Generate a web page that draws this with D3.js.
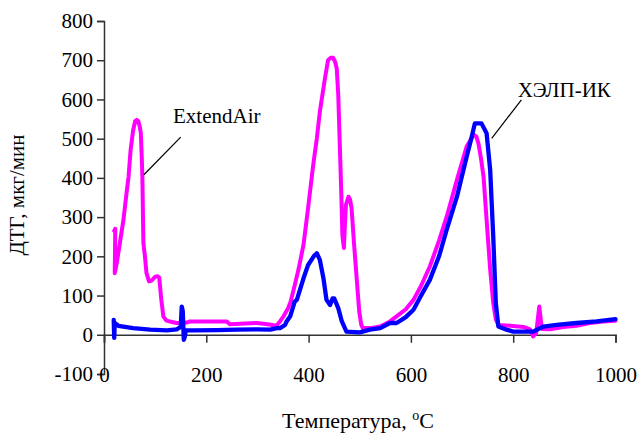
<!DOCTYPE html>
<html><head><meta charset="utf-8">
<script src="https://cdn.jsdelivr.net/npm/d3@7"></script>
<style>
html,body{margin:0;padding:0;background:#fff;}
text{font-family:"Liberation Serif","Times New Roman",serif;fill:#000;}
</style></head>
<body><svg id="c" width="639" height="433"></svg>
<script>
// ---- data ----
const xTicks = [0, 200, 400, 600, 800, 1000];
const yTicks = [-100, 0, 100, 200, 300, 400, 500, 600, 700, 800];
const seriesNames = ["ExtendAir", "ХЭЛП-ИК"];
const extendAirT = [20,22,21,25,38,44,48,52,57,61,64,67,70,72,74,75,77,80,83,88,93,100,105,108,112,116,122,135,142,150,162,168,200,240,246,298,320,337,344,351,360,365,373,380,390,399,409,416,422,432,438,443,448,452,455,458,461,464,466,469,471,473,478,481,484,489,494,499,503,506,520,540,559,572,590,605,620,637,655,670,690,709,718,723,728,732,737,742,748,755,761,766,771,794,820,833,839,845,851,856,872,898,924,950,976,1000];
const extendAirV = [265,270,157,183,293,360,403,471,522,545,548,545,530,514,446,403,234,200,158,136,138,148,149,146,90,47,36,32,30,30,31,34,34,34,27,30,27,23,34,47,68,85,127,165,229,323,433,500,569,654,700,706,706,695,679,611,484,357,255,221,280,331,352,345,323,229,144,59,25,17,17,21,34,47,65,89,125,174,240,301,395,480,500,510,505,488,450,403,293,166,81,40,25,23,20,14,-4,5,72,15,14,20,23,30,34,36];
const helpT = [19,20,21,28,57,90,123,142,150,152,154,156,158,160,175,220,259,300,325,338,344,354,357,364,373,377,390,399,410,416,422,429,435,442,447,450,458,465,474,500,520,540,559,572,590,605,620,637,655,670,690,709,718,725,738,748,755,761,766,771,787,800,839,859,885,924,963,1000];
const helpV = [38,-8,30,23,17,13,11,14,20,72,60,-13,-5,11,11,12,13,14,13,17,17,25,34,47,85,89,144,178,200,208,191,144,89,76,93,93,68,34,8,6,13,17,30,30,45,64,100,140,200,268,352,454,500,539,539,514,420,250,81,21,13,8,8,21,25,30,34,40];
// annotation anchors (data units)
const annExtend = {text:"ExtendAir", tx:135, ty:540, x1:150, y1:504, x2:78, y2:408};
const annHelp = {text:"ХЭЛП-ИК", tx:809, ty:607, x1:816, y1:599, x2:758, y2:501};

// ---- chart ----
const svg = d3.select("#c");
const x = d3.scaleLinear().domain([0, 1000]).range([104, 615.5]);
const y = d3.scaleLinear().domain([-100, 800]).range([374, 21]);
const font = "21px";
const fmt = d => String(d);

// y axis
const yAx = svg.append("g").attr("transform", `translate(${x(0)},0)`)
  .call(d3.axisLeft(y).tickValues(yTicks).tickSizeOuter(0).tickSize(7).tickPadding(4).tickFormat(fmt));
yAx.select(".domain").attr("stroke", "#333").attr("stroke-width", 1.5);
yAx.selectAll(".tick line").attr("stroke", "#333").attr("stroke-width", 1.5);
yAx.selectAll(".tick text").style("font-size", font).style("font-family", '"Liberation Serif",serif').attr("fill", "#000");

// x axis at y=0
const xAx = svg.append("g").attr("transform", `translate(0,${y(0)})`)
  .call(d3.axisBottom(x).tickValues(xTicks).tickSizeOuter(0).tickSize(8).tickFormat(fmt));
xAx.select(".domain").attr("stroke", "#333").attr("stroke-width", 1.5);
xAx.selectAll(".tick line").attr("stroke", "#333").attr("stroke-width", 1.5);
xAx.selectAll(".tick text").style("font-size", font).style("font-family", '"Liberation Serif",serif').attr("fill", "#000")
  .attr("y", y(-100) - y(0) - 7).attr("dy", "0.71em");

// lines
const line = d3.line().x(d => x(d[0])).y(d => y(d[1]));
const dataA = extendAirT.map((t, i) => [t, extendAirV[i]]);
const dataB = helpT.map((t, i) => [t, helpV[i]]);
svg.append("path").datum(dataA).attr("d", line).attr("fill", "none")
  .attr("stroke", "#ff00ff").attr("stroke-width", 4).attr("stroke-linejoin", "round").attr("stroke-linecap", "round");
svg.append("path").datum(dataB).attr("d", line).attr("fill", "none")
  .attr("stroke", "#0000ff").attr("stroke-width", 4.3).attr("stroke-linejoin", "round").attr("stroke-linecap", "round");

// annotations
[annExtend, annHelp].forEach(a => {
  svg.append("line").attr("x1", x(a.x1)).attr("y1", y(a.y1)).attr("x2", x(a.x2)).attr("y2", y(a.y2))
    .attr("stroke", "#000").attr("stroke-width", 1.2);
  svg.append("text").attr("x", x(a.tx)).attr("y", y(a.ty)).style("font-size", font).text(a.text);
});

// axis titles
const xt = svg.append("text").attr("x", 358).attr("y", 428).attr("text-anchor", "middle").style("font-size", "22px");
xt.append("tspan").text("Температура, ");
xt.append("tspan").attr("dy", -8).style("font-size", "14px").text("o");
xt.append("tspan").attr("dy", 8).text("C");

svg.append("text").attr("transform", "translate(24,195) rotate(-90)").attr("text-anchor", "middle")
  .style("font-size", font).text("ДТГ, мкг/мин");
</script></body></html>
